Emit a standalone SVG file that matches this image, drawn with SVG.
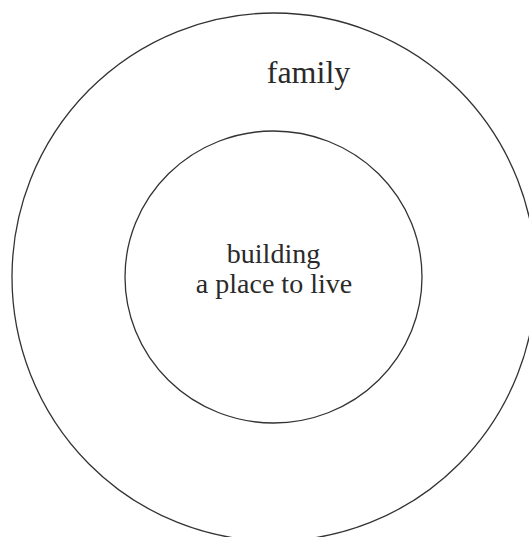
<svg xmlns="http://www.w3.org/2000/svg" width="529" height="537" viewBox="0 0 529 537">
<style>
.ring{fill:none;stroke:#333;stroke-width:1.3}
.t{font-family:"Liberation Serif","Times New Roman",serif;fill:#2a2a2a;text-anchor:middle}
</style>
<rect width="529" height="537" fill="#fff"/>
<g id="family">
<ellipse class="ring" cx="274" cy="277" rx="262" ry="264"/>
<text class="t" x="308.5" y="83" font-size="32">family</text>
</g>
<g id="building">
<ellipse class="ring" cx="273.5" cy="277" rx="148.5" ry="146"/>
<text class="t" x="273.5" y="263" font-size="28">building</text>
<text class="t" x="274" y="293" font-size="28">a place to live</text>
</g>
<g id="connectors"/>
</svg>
